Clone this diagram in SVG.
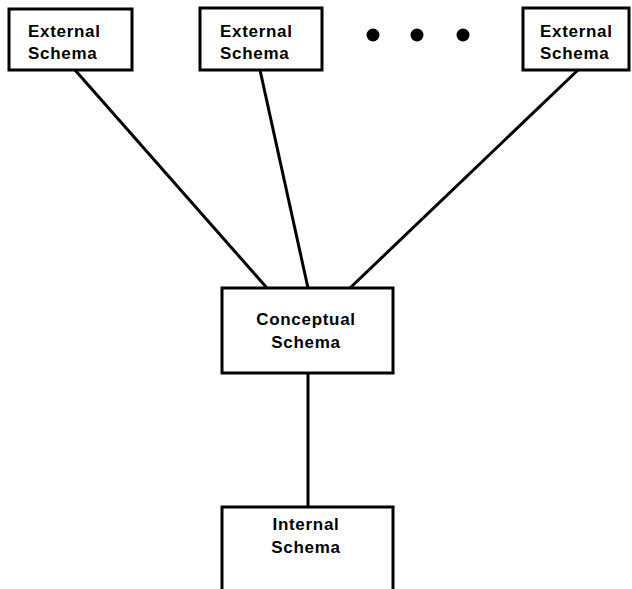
<svg xmlns="http://www.w3.org/2000/svg" width="632" height="589" viewBox="0 0 632 589">
<style>
.box{fill:#fff;stroke:#000;stroke-width:3}
.t{font-family:"Liberation Sans",Arial,sans-serif;font-size:17px;font-weight:bold;letter-spacing:0.7px;fill:#000}
.c{text-anchor:middle}
.ln{stroke:#000;stroke-width:3;fill:none}
</style>
<rect width="632" height="589" fill="#fff"/>
<g id="connectors">
<line class="ln" x1="75" y1="70" x2="267" y2="288"/>
<line class="ln" x1="260" y1="70" x2="308" y2="288"/>
<line class="ln" x1="578" y1="70" x2="350" y2="288"/>
<line class="ln" x1="308" y1="373" x2="308" y2="507"/>
</g>
<g id="ext1">
<rect class="box" x="9" y="9" width="123" height="61"/>
<text class="t" x="28" y="37">External</text>
<text class="t" x="28" y="59">Schema</text>
</g>
<g id="ext2">
<rect class="box" x="200" y="8" width="122" height="62"/>
<text class="t" x="220" y="37">External</text>
<text class="t" x="220" y="59">Schema</text>
</g>
<g id="dots">
<circle cx="373" cy="35" r="6.5"/>
<circle cx="417" cy="35" r="6.5"/>
<circle cx="463" cy="35" r="6.5"/>
</g>
<g id="ext3">
<rect class="box" x="523" y="8" width="106" height="62"/>
<text class="t" x="540" y="37">External</text>
<text class="t" x="540" y="59">Schema</text>
</g>
<g id="conceptual">
<rect class="box" x="222" y="288" width="171" height="85"/>
<text class="t c" x="306" y="325">Conceptual</text>
<text class="t c" x="306" y="348">Schema</text>
</g>
<g id="internal">
<rect class="box" x="222" y="507" width="171" height="100"/>
<text class="t c" x="306" y="530">Internal</text>
<text class="t c" x="306" y="553">Schema</text>
</g>
</svg>
